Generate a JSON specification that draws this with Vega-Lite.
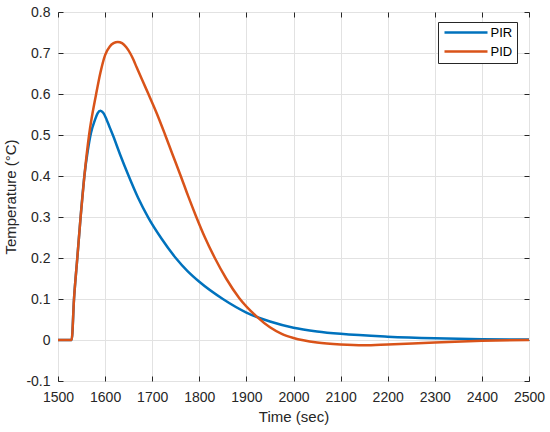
{
  "$schema": "https://vega.github.io/schema/vega-lite/v6.json",
  "width": 471,
  "height": 369,
  "autosize": {"type": "none"},
  "padding": {"left": 58, "top": 12, "right": 21, "bottom": 51},
  "background": "white",
  "config": {
    "font": "Liberation Sans",
    "view": {"stroke": "#262626", "strokeWidth": 1},
    "axis": {
      "domain": false,
      "grid": true,
      "gridColor": "#e2e2e2",
      "gridWidth": 1,
      "ticks": true,
      "tickColor": "#262626",
      "tickSize": -5,
      "labelFontSize": 14,
      "labelColor": "#262626",
      "labelFlush": false,
      "labelOverlap": false,
      "titleFontSize": 15,
      "titleFontWeight": "normal",
      "titleColor": "#262626"
    }
  },
  "data": {
    "values": [
      {"t": 1500, "v": 0, "c": "PIR"},
      {"t": 1529, "v": 0, "c": "PIR"},
      {"t": 1534, "v": 0.1, "c": "PIR"},
      {"t": 1541, "v": 0.2, "c": "PIR"},
      {"t": 1548, "v": 0.3, "c": "PIR"},
      {"t": 1556, "v": 0.4, "c": "PIR"},
      {"t": 1563, "v": 0.46, "c": "PIR"},
      {"t": 1570, "v": 0.505, "c": "PIR"},
      {"t": 1578, "v": 0.535, "c": "PIR"},
      {"t": 1584, "v": 0.553, "c": "PIR"},
      {"t": 1590, "v": 0.559, "c": "PIR"},
      {"t": 1596, "v": 0.554, "c": "PIR"},
      {"t": 1603, "v": 0.538, "c": "PIR"},
      {"t": 1610, "v": 0.518, "c": "PIR"},
      {"t": 1617, "v": 0.498, "c": "PIR"},
      {"t": 1632, "v": 0.452, "c": "PIR"},
      {"t": 1649, "v": 0.403, "c": "PIR"},
      {"t": 1670, "v": 0.347, "c": "PIR"},
      {"t": 1692, "v": 0.298, "c": "PIR"},
      {"t": 1720, "v": 0.247, "c": "PIR"},
      {"t": 1750, "v": 0.2, "c": "PIR"},
      {"t": 1775, "v": 0.168, "c": "PIR"},
      {"t": 1800, "v": 0.142, "c": "PIR"},
      {"t": 1850, "v": 0.1, "c": "PIR"},
      {"t": 1900, "v": 0.067, "c": "PIR"},
      {"t": 1950, "v": 0.045, "c": "PIR"},
      {"t": 2000, "v": 0.03, "c": "PIR"},
      {"t": 2050, "v": 0.021, "c": "PIR"},
      {"t": 2100, "v": 0.015, "c": "PIR"},
      {"t": 2200, "v": 0.008, "c": "PIR"},
      {"t": 2300, "v": 0.004, "c": "PIR"},
      {"t": 2400, "v": 0.002, "c": "PIR"},
      {"t": 2500, "v": 0.001, "c": "PIR"},
      {"t": 1500, "v": 0, "c": "PID"},
      {"t": 1529, "v": 0, "c": "PID"},
      {"t": 1534, "v": 0.1, "c": "PID"},
      {"t": 1541, "v": 0.2, "c": "PID"},
      {"t": 1548, "v": 0.3, "c": "PID"},
      {"t": 1556, "v": 0.4, "c": "PID"},
      {"t": 1566, "v": 0.5, "c": "PID"},
      {"t": 1581, "v": 0.6, "c": "PID"},
      {"t": 1590, "v": 0.652, "c": "PID"},
      {"t": 1600, "v": 0.695, "c": "PID"},
      {"t": 1610, "v": 0.716, "c": "PID"},
      {"t": 1618, "v": 0.724, "c": "PID"},
      {"t": 1627, "v": 0.727, "c": "PID"},
      {"t": 1636, "v": 0.724, "c": "PID"},
      {"t": 1645, "v": 0.714, "c": "PID"},
      {"t": 1653, "v": 0.7, "c": "PID"},
      {"t": 1660, "v": 0.684, "c": "PID"},
      {"t": 1667, "v": 0.665, "c": "PID"},
      {"t": 1680, "v": 0.631, "c": "PID"},
      {"t": 1692, "v": 0.6, "c": "PID"},
      {"t": 1710, "v": 0.552, "c": "PID"},
      {"t": 1727, "v": 0.502, "c": "PID"},
      {"t": 1743, "v": 0.453, "c": "PID"},
      {"t": 1760, "v": 0.402, "c": "PID"},
      {"t": 1776, "v": 0.352, "c": "PID"},
      {"t": 1793, "v": 0.302, "c": "PID"},
      {"t": 1812, "v": 0.25, "c": "PID"},
      {"t": 1833, "v": 0.2, "c": "PID"},
      {"t": 1857, "v": 0.15, "c": "PID"},
      {"t": 1885, "v": 0.102, "c": "PID"},
      {"t": 1922, "v": 0.057, "c": "PID"},
      {"t": 1950, "v": 0.031, "c": "PID"},
      {"t": 1975, "v": 0.015, "c": "PID"},
      {"t": 2000, "v": 0.005, "c": "PID"},
      {"t": 2050, "v": -0.006, "c": "PID"},
      {"t": 2100, "v": -0.011, "c": "PID"},
      {"t": 2150, "v": -0.013, "c": "PID"},
      {"t": 2200, "v": -0.011, "c": "PID"},
      {"t": 2300, "v": -0.006, "c": "PID"},
      {"t": 2400, "v": -0.002, "c": "PID"},
      {"t": 2500, "v": 0, "c": "PID"}
    ]
  },
  "layer": [
    {
      "mark": {"type": "line", "strokeWidth": 2.5, "interpolate": "monotone"},
      "encoding": {
        "x": {
          "field": "t",
          "type": "quantitative",
          "scale": {"domain": [1500, 2500], "nice": false},
          "axis": {
            "title": "Time (sec)",
            "values": [1500, 1600, 1700, 1800, 1900, 2000, 2100, 2200, 2300, 2400, 2500],
            "format": "d",
            "labelPadding": 14,
            "titlePadding": 5
          }
        },
        "y": {
          "field": "v",
          "type": "quantitative",
          "scale": {"domain": [-0.1, 0.8], "nice": false},
          "axis": {
            "title": "Temperature (°C)",
            "values": [-0.1, 0, 0.1, 0.2, 0.3, 0.4, 0.5, 0.6, 0.7, 0.8],
            "labelExpr": "datum.value < 0 ? '-' + format(-datum.value, '~g') : format(datum.value, '~g')",
            "labelPadding": 13,
            "titlePadding": 7
          }
        },
        "color": {
          "field": "c",
          "type": "nominal",
          "sort": ["PIR", "PID"],
          "scale": {"domain": ["PIR", "PID"], "range": ["#0072BD", "#D95319"]},
          "legend": {
            "title": null,
            "orient": "none",
            "legendX": 380,
            "legendY": 10,
            "fillColor": "white",
            "strokeColor": "#262626",
            "padding": 4,
            "symbolType": "M-4.3,0L4.3,0",
            "symbolSize": 100,
            "symbolStrokeWidth": 2.5,
            "symbolOffset": 17.5,
            "labelFontSize": 13,
            "labelColor": "#000000",
            "labelOffset": 18,
            "rowPadding": 5
          }
        }
      }
    },
    {
      "mark": {"type": "line", "opacity": 0},
      "encoding": {
        "x": {
          "field": "t",
          "type": "quantitative",
          "axis": {
            "orient": "top",
            "title": null,
            "labels": false,
            "grid": false,
            "values": [1500, 1600, 1700, 1800, 1900, 2000, 2100, 2200, 2300, 2400, 2500]
          }
        },
        "y": {
          "field": "v",
          "type": "quantitative",
          "axis": {
            "orient": "right",
            "title": null,
            "labels": false,
            "grid": false,
            "values": [-0.1, 0, 0.1, 0.2, 0.3, 0.4, 0.5, 0.6, 0.7, 0.8]
          }
        }
      }
    }
  ],
  "resolve": {"axis": {"x": "independent", "y": "independent"}}
}
